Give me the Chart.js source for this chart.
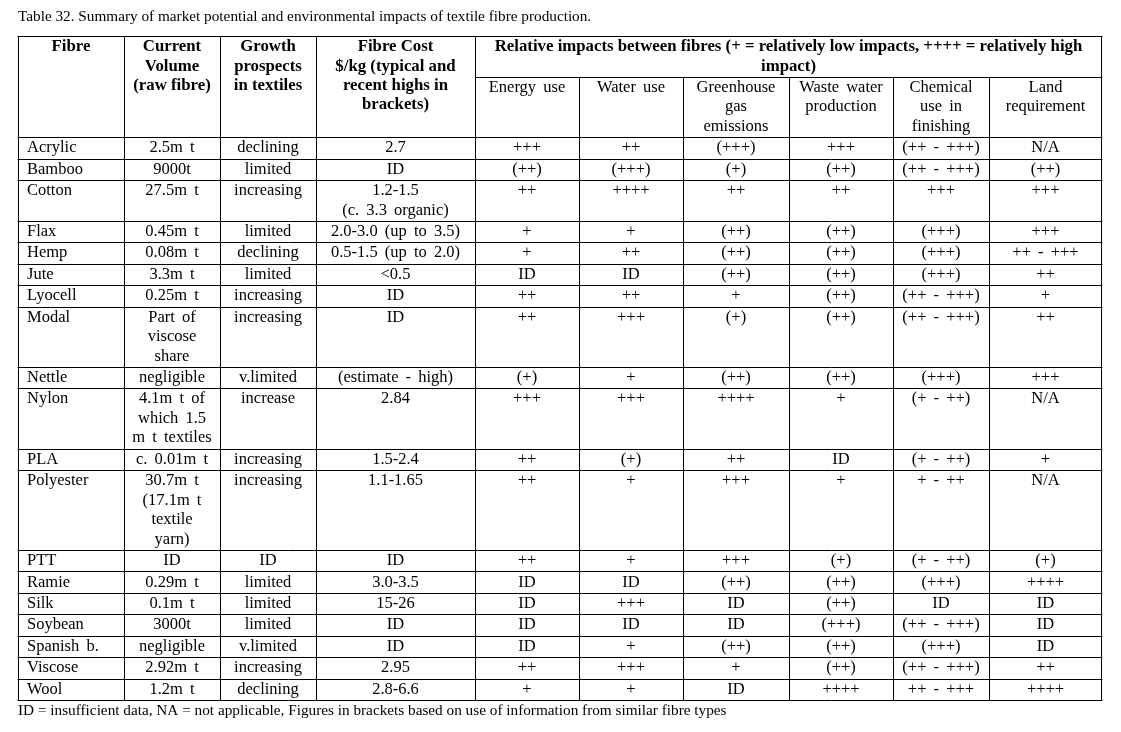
<!DOCTYPE html>
<html>
<head>
<meta charset="utf-8">
<script src="https://cdn.jsdelivr.net/npm/chart.js@4.4.1/dist/chart.umd.min.js"></script>
<style>
  html, body { margin: 0; padding: 0; background: #ffffff; }
  #wrap { width: 1121px; height: 732px; position: relative; }
</style>
</head>
<body>
<div id="wrap"><canvas id="c"></canvas></div>
<script>
// ---------- Data ----------
const titleText = "Table 32. Summary of market potential and environmental impacts of textile fibre production.";
const footnoteText = "ID = insufficient data, NA = not applicable, Figures in brackets based on use of information from similar fibre types";

const leftHeaders = ["Fibre", "Current\nVolume\n(raw fibre)", "Growth\nprospects\nin textiles", "Fibre Cost\n$/kg (typical and\nrecent highs in\nbrackets)"];
const groupHeader = "Relative impacts between fibres (+ = relatively low impacts, ++++ = relatively high\nimpact)";
const impactHeaders = ["Energy use", "Water use", "Greenhouse\ngas\nemissions", "Waste water\nproduction", "Chemical\nuse in\nfinishing", "Land\nrequirement"];

const fibres = ["Acrylic", "Bamboo", "Cotton", "Flax", "Hemp", "Jute", "Lyocell", "Modal", "Nettle", "Nylon", "PLA", "Polyester", "PTT", "Ramie", "Silk", "Soybean", "Spanish b.", "Viscose", "Wool"];
const volume = ["2.5m t", "9000t", "27.5m t", "0.45m t", "0.08m t", "3.3m t", "0.25m t", "Part of\nviscose\nshare", "negligible", "4.1m t of\nwhich 1.5\nm t textiles", "c. 0.01m t", "30.7m t\n(17.1m t\ntextile\nyarn)", "ID", "0.29m t", "0.1m t", "3000t", "negligible", "2.92m t", "1.2m t"];
const growth = ["declining", "limited", "increasing", "limited", "declining", "limited", "increasing", "increasing", "v.limited", "increase", "increasing", "increasing", "ID", "limited", "limited", "limited", "v.limited", "increasing", "declining"];
const cost = ["2.7", "ID", "1.2-1.5\n(c. 3.3 organic)", "2.0-3.0 (up to 3.5)", "0.5-1.5 (up to 2.0)", "<0.5", "ID", "ID", "(estimate - high)", "2.84", "1.5-2.4", "1.1-1.65", "ID", "3.0-3.5", "15-26", "ID", "ID", "2.95", "2.8-6.6"];
const energy = ["+++", "(++)", "++", "+", "+", "ID", "++", "++", "(+)", "+++", "++", "++", "++", "ID", "ID", "ID", "ID", "++", "+"];
const water = ["++", "(+++)", "++++", "+", "++", "ID", "++", "+++", "+", "+++", "(+)", "+", "+", "ID", "+++", "ID", "+", "+++", "+"];
const ghg = ["(+++)", "(+)", "++", "(++)", "(++)", "(++)", "+", "(+)", "(++)", "++++", "++", "+++", "+++", "(++)", "ID", "ID", "(++)", "+", "ID"];
const wasteWater = ["+++", "(++)", "++", "(++)", "(++)", "(++)", "(++)", "(++)", "(++)", "+", "ID", "+", "(+)", "(++)", "(++)", "(+++)", "(++)", "(++)", "++++"];
const chemical = ["(++ - +++)", "(++ - +++)", "+++", "(+++)", "(+++)", "(+++)", "(++ - +++)", "(++ - +++)", "(+++)", "(+ - ++)", "(+ - ++)", "+ - ++", "(+ - ++)", "(+++)", "ID", "(++ - +++)", "(+++)", "(++ - +++)", "++ - +++"];
const land = ["N/A", "(++)", "+++", "+++", "++ - +++", "++", "+", "++", "+++", "N/A", "+", "N/A", "(+)", "++++", "ID", "ID", "ID", "++", "++++"];

const columns = [fibres, volume, growth, cost, energy, water, ghg, wasteWater, chemical, land];

// ---------- Layout (sizes / styles) ----------
const colWidths = [106, 96, 96, 159, 104, 104, 106, 104, 96, 113];
const fontFamily = "'Liberation Serif', 'Times New Roman', serif";
const bodyFontSize = 16.5;
const boldFontSize = 16.8;
const bodyWordSpacing = '3px';
const boldWordSpacing = '0px';
const rowPad = 0.1;          // extra line units per row
const firstColIndent = 9;    // x units
const lineColor = "#000000";

// derived
const colEdges = [0];
colWidths.forEach(w => colEdges.push(colEdges[colEdges.length - 1] + w));
const totalWidth = colEdges[colEdges.length - 1];
const nLines = s => s.split("\n").length;

const groupRowH = nLines(groupHeader) + rowPad;
const subRowH = Math.max(...impactHeaders.map(nLines)) + rowPad;
const headerH = groupRowH + subRowH;
const rowHeights = fibres.map((_, r) => Math.max(...columns.map(col => nLines(col[r]))) + rowPad);
const rowEdges = [headerH];
rowHeights.forEach(h => rowEdges.push(rowEdges[rowEdges.length - 1] + h));
const totalHeight = rowEdges[rowEdges.length - 1];

const tablePlugin = {
  id: 'tablePlugin',
  afterDraw(chart) {
    const { ctx, scales: { x, y } } = chart;
    const px = v => x.getPixelForValue(v);
    const py = v => y.getPixelForValue(v);
    const crisp = v => Math.round(v) + 0.5;

    ctx.save();
    ctx.fillStyle = '#000';
    ctx.textBaseline = 'middle';

    function drawCell(text, c0, c1, top, bold, alignLeft) {
      ctx.font = (bold ? 'bold ' + boldFontSize : bodyFontSize) + 'px ' + fontFamily;
      if ('wordSpacing' in ctx) ctx.wordSpacing = bold ? boldWordSpacing : bodyWordSpacing;
      const lines = text.split("\n");
      lines.forEach((ln, i) => {
        const yy = py(top + rowPad / 2 + i + 0.5);
        if (alignLeft) {
          ctx.textAlign = 'left';
          ctx.fillText(ln, px(colEdges[c0] + firstColIndent), yy);
        } else {
          ctx.textAlign = 'center';
          ctx.fillText(ln, (px(colEdges[c0]) + px(colEdges[c1])) / 2, yy);
        }
      });
    }

    // Header cells
    leftHeaders.forEach((h, c) => drawCell(h, c, c + 1, 0, true, false));
    drawCell(groupHeader, leftHeaders.length, colWidths.length, 0, true, false);
    impactHeaders.forEach((h, i) => {
      const c = leftHeaders.length + i;
      drawCell(h, c, c + 1, groupRowH, false, false);
    });

    // Body cells
    fibres.forEach((_, r) => {
      columns.forEach((col, c) => {
        drawCell(col[r], c, c + 1, rowEdges[r], false, c === 0);
      });
    });
    if ('wordSpacing' in ctx) ctx.wordSpacing = '0px';

    // Grid lines
    ctx.strokeStyle = lineColor;
    ctx.lineWidth = 1;
    ctx.beginPath();
    [0, ...rowEdges].forEach(v => {
      const yy = crisp(py(v));
      ctx.moveTo(px(0) - 0.5, yy);
      ctx.lineTo(px(totalWidth) + 0.5, yy);
    });
    {
      const yy = crisp(py(groupRowH));
      ctx.moveTo(crisp(px(colEdges[leftHeaders.length])), yy);
      ctx.lineTo(px(totalWidth) + 0.5, yy);
    }
    colEdges.forEach((e, i) => {
      const xx = crisp(px(e)) - (i === colEdges.length - 1 ? 1 : 0);
      const startUnit = (i > leftHeaders.length && i < colEdges.length - 1) ? groupRowH : 0;
      ctx.moveTo(xx, crisp(py(startUnit)));
      ctx.lineTo(xx, crisp(py(totalHeight)));
    });
    ctx.stroke();
    ctx.restore();
  }
};

new Chart(document.getElementById('c'), {
  type: 'scatter',
  data: { datasets: [{ data: [], pointRadius: 0 }] },
  options: {
    responsive: true,
    maintainAspectRatio: false,
    animation: false,
    events: [],
    layout: { padding: { left: 18, right: 19, top: 0, bottom: 0 } },
    scales: {
      x: { type: 'linear', min: 0, max: totalWidth, display: false },
      y: { type: 'linear', min: 0, max: totalHeight, reverse: true, display: false }
    },
    plugins: {
      legend: { display: false },
      tooltip: { enabled: false },
      title: {
        display: true,
        text: titleText,
        align: 'start',
        color: '#000',
        font: { family: fontFamily, size: 15.25, weight: 'normal', lineHeight: 1.2 },
        padding: { top: 8, bottom: 9.7 }
      },
      subtitle: {
        display: true,
        position: 'bottom',
        text: footnoteText,
        align: 'start',
        color: '#000',
        font: { family: fontFamily, size: 15.25, weight: 'normal', lineHeight: 1.2 },
        padding: { top: 1.7, bottom: 12 }
      }
    }
  },
  plugins: [tablePlugin]
});
</script>
</body>
</html>
